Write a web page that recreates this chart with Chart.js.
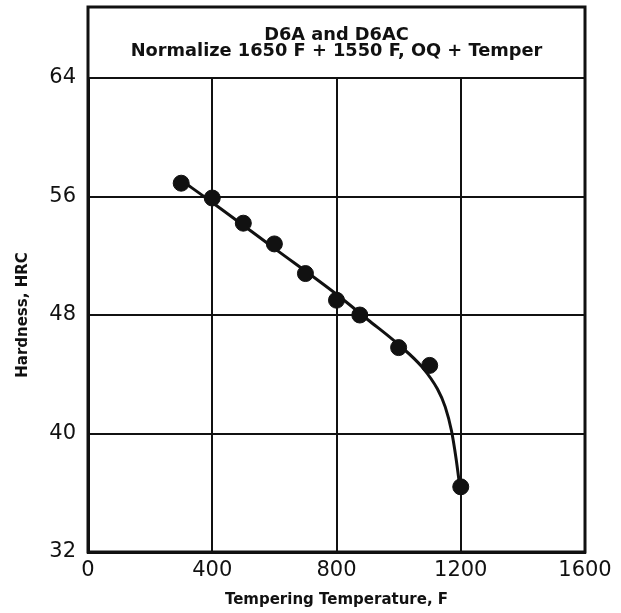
<!DOCTYPE html>
<html lang="en">

<head>
    <meta charset="UTF-8">
    <title>D6A and D6AC Tempering Curve</title>
    <script src="https://cdn.jsdelivr.net/npm/chart.js"></script>
    <style>
        body {
            margin: 0;
            background: #fff;
        }

        #wrap {
            width: 621px;
            height: 613px;
        }
    </style>
</head>

<body>
    <div id="wrap">
        <canvas id="chart" width="621" height="613"></canvas>
    </div>

    <script>
        // measured points
        const temperF = [300, 400, 500, 600, 700, 800, 875, 1000, 1100, 1200];
        const hardnessHRC = [56.9, 55.9, 54.2, 52.8, 50.8, 49.0, 48.0, 45.8, 44.6, 36.4];

        // hand-drawn trend curve through the points
        const curveF = [300, 400, 600, 800, 900, 1000, 1075, 1125, 1150, 1170, 1185, 1197];
        const curveHRC = [57.1, 55.6, 52.5, 49.4, 47.7, 46.0, 44.5, 43.0, 41.8, 40.2, 38.3, 36.4];

        const xTicks = [0, 400, 800, 1200, 1600];
        const yTicks = [32, 40, 48, 56, 64];

        const titleLines = ['D6A and D6AC', 'Normalize 1650 F + 1550 F, OQ + Temper'];

        const ink = '#111';

        // closes the frame around the title block
        const titleFrame = {
            id: 'titleFrame',
            afterDraw(chart) {
                const { ctx, chartArea } = chart;
                const top = chart.titleBlock ? chart.titleBlock.top : chartArea.top;
                ctx.save();
                ctx.strokeStyle = ink;
                ctx.lineWidth = 3;
                ctx.strokeRect(chartArea.left, top, chartArea.right - chartArea.left, chartArea.bottom - top);
                ctx.restore();
            }
        };

        const tickFont = { family: 'DejaVu Sans', size: 21 };
        const labelFont = { family: 'DejaVu Sans', size: 15, weight: 'bold' };

        new Chart(document.getElementById('chart'), {
            type: 'scatter',
            data: {
                datasets: [{
                    label: 'curve',
                    data: curveF.map((x, i) => ({ x, y: curveHRC[i] })),
                    showLine: true,
                    borderColor: ink,
                    borderWidth: 3,
                    pointRadius: 0,
                    cubicInterpolationMode: 'monotone',
                    order: 2
                }, {
                    label: 'Hardness',
                    data: temperF.map((x, i) => ({ x, y: hardnessHRC[i] })),
                    backgroundColor: ink,
                    borderColor: ink,
                    pointRadius: 8,
                    order: 1
                }]
            },
            plugins: [titleFrame],
            options: {
                responsive: false,
                animation: false,
                layout: {
                    padding: { top: 7, left: 10, right: 36, bottom: 2 }
                },
                plugins: {
                    legend: { display: false },
                    tooltip: { enabled: false },
                    title: {
                        display: true,
                        fullSize: false,
                        text: titleLines,
                        color: ink,
                        font: { family: 'DejaVu Sans', size: 17.8, weight: 'bold', lineHeight: 0.9 },
                        padding: { top: 20, bottom: 19 }
                    }
                },
                scales: {
                    x: {
                        type: 'linear',
                        min: 0,
                        max: 1600,
                        afterBuildTicks: s => { s.ticks = xTicks.map(v => ({ value: v })); },
                        afterFit: s => { s.height = 59; },
                        grid: { color: ink, lineWidth: 2, drawTicks: false },
                        border: { color: ink, width: 3 },
                        ticks: { color: ink, font: tickFont, padding: 6, maxRotation: 0, callback: v => String(v) },
                        title: {
                            display: true,
                            text: 'Tempering Temperature, F',
                            color: ink,
                            font: labelFont,
                            padding: { top: 0, bottom: 2 }
                        }
                    },
                    y: {
                        type: 'linear',
                        min: 32,
                        max: 64,
                        afterBuildTicks: s => { s.ticks = yTicks.map(v => ({ value: v })); },
                        afterFit: s => { s.width = 78; },
                        grid: { color: ink, lineWidth: 2, drawTicks: false },
                        border: { color: ink, width: 3 },
                        ticks: { color: ink, font: tickFont, padding: 12, callback: v => String(v) },
                        title: {
                            display: true,
                            text: 'Hardness, HRC',
                            color: ink,
                            font: labelFont,
                            padding: { top: 4, bottom: 4 }
                        }
                    }
                }
            }
        });
    </script>
</body>

</html>
